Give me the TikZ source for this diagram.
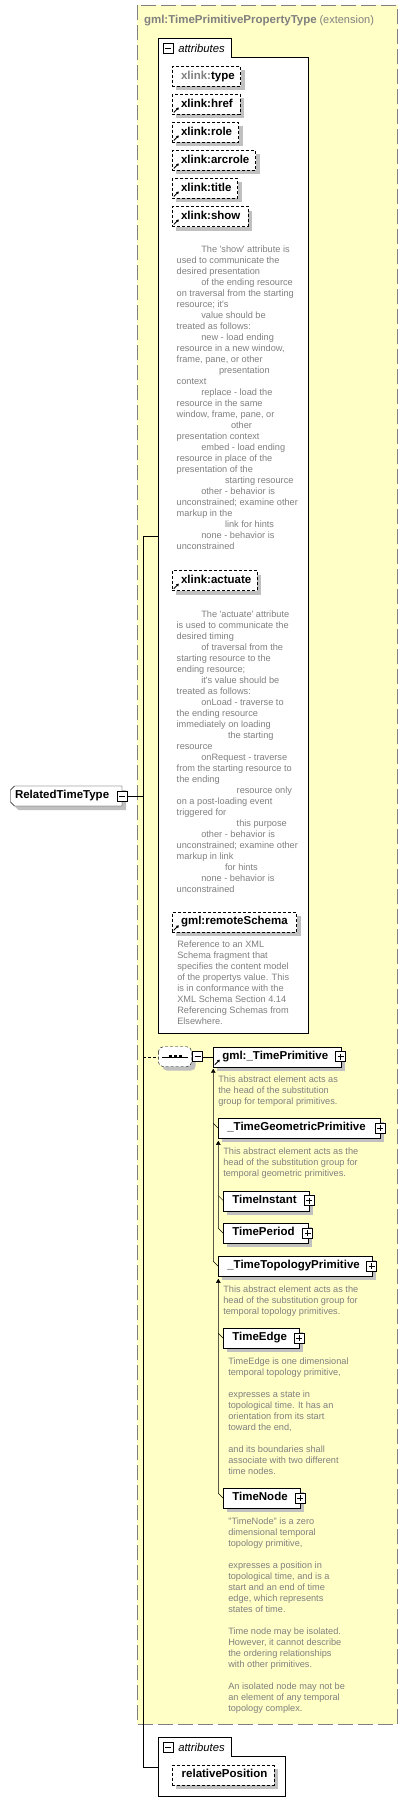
\documentclass[tikz,border=0pt]{standalone}
\usepackage{fontspec}
\setmainfont{Liberation Sans}
\usetikzlibrary{shadows,arrows.meta,calc}
\pgfdeclarelayer{bg}
\pgfsetlayers{bg,main}
\definecolor{ybg}{HTML}{FFFFC6}
\definecolor{dgray}{HTML}{808080}
\definecolor{shgray}{HTML}{C0C0C0}
\newcommand{\lblstrut}{\rule[-3pt]{0pt}{11.2pt}}
\newcommand{\indA}{\hspace*{24.6pt}}
\newcommand{\myrefarr}[1]{\draw[line width=0.9pt,-{Triangle[width=3pt,length=2.5pt]}] ([xshift=1.5pt,yshift=2pt]#1.south west) -- ++(5,-5);}
\begin{document}
\begin{tikzpicture}[x=1pt,y=-1pt,line width=1pt,
  every node/.style={inner sep=0pt,outer sep=0pt},
  lbl/.style={font=\fontsize{11.5}{13.8}\selectfont\bfseries},
  shad/.style={drop shadow={shadow xshift=4pt,shadow yshift=-4pt,fill=shgray,opacity=1}},
  elem/.style={rectangle,draw,fill=white,shad,lbl,anchor=west,inner xsep=9pt,align=left,minimum height=20pt},
  attr/.style={rectangle,draw,dash pattern=on 3pt off 2pt,fill=white,shad,lbl,anchor=west,inner xsep=8.7pt,align=left,minimum height=20pt},
  desc/.style={anchor=north west,align=left,text=dgray,font=\fontsize{9.2}{11}\selectfont},
  tabtxt/.style={anchor=base west,font=\fontsize{11.3}{13}\selectfont\itshape},
  pmbox/.style={rectangle,draw,fill=white,minimum size=10pt,inner sep=0pt,line width=0.8pt},
  minusbox/.style={pmbox,path picture={\draw[line width=0.8pt] ([xshift=2pt]path picture bounding box.west) -- ([xshift=-2pt]path picture bounding box.east);}},
  plusbox/.style={pmbox,path picture={\draw[line width=0.8pt] ([xshift=2pt]path picture bounding box.west) -- ([xshift=-2pt]path picture bounding box.east) ([yshift=-2pt]path picture bounding box.north) -- ([yshift=2pt]path picture bounding box.south);}},
  arr/.style={{Triangle[width=4.5pt,length=4pt]}-},
  ybox/.style={fill=ybg,draw=dgray,line width=1.3pt,dash pattern=on 15pt off 5pt},
  cont/.style={fill=white,draw=black,line width=1pt}
]
\useasboundingbox (0,0) rectangle (419,1814);

% extension box
\draw[ybox] (137.3,5.3) rectangle (397.7,1724.3);
\node[anchor=base west,text=dgray] (title) at (144,23.3)
  {{\fontsize{11.5}{13.8}\selectfont\bfseries gml:TimePrimitivePropertyType} {\fontsize{11}{13}\selectfont(extension)}};

% attributes container 1
\draw[cont] (158.3,38.3) -- (231,38.3) -- (231,57.3) -- (308.7,57.3) -- (308.7,1033.3) -- (158.3,1033.3) -- cycle;
\node[minusbox] (a1m) at (168.3,48.3) {};
\node[tabtxt] (a1t) at (178.3,52.3) {attributes};
\coordinate (a1in) at (158.3,536);

\node[attr,text width=51pt] (xtype) at (172.3,76.5) {\lblstrut{\color{dgray}xlink:}type};
\node[attr,text width=50.3pt] (xhref) at (172.3,104.5) {\lblstrut xlink:href};
\node[attr,text width=49pt] (xrole) at (172.3,132.5) {\lblstrut xlink:role};
\node[attr,text width=66pt] (xarc) at (172.3,160.5) {\lblstrut xlink:arcrole};
\node[attr,text width=48pt] (xtitle) at (172.3,188.5) {\lblstrut xlink:title};
\node[attr,text width=58.3pt] (xshow) at (172.3,216.5) {\lblstrut xlink:show};
\myrefarr{xhref}
\myrefarr{xrole}
\myrefarr{xarc}
\myrefarr{xtitle}
\myrefarr{xshow}

\node[desc] (dshow) at (176.7,244.9) {\strut\indA The \textquotesingle show\textquotesingle{} attribute is\\
used to communicate the\\
desired presentation\\
\indA of the ending resource\\
on traversal from the starting\\
resource; it\textquotesingle s\\
\indA value should be\\
treated as follows:\\
\indA new - load ending\\
resource in a new window,\\
frame, pane, or other\\
\hspace*{42.3pt}presentation\\
context\\
\indA replace - load the\\
resource in the same\\
window, frame, pane, or\\
\hspace*{54.3pt}other\\
presentation context\\
\indA embed - load ending\\
resource in place of the\\
presentation of the\\
\hspace*{48.3pt}starting resource\\
\indA other - behavior is\\
unconstrained; examine other\\
markup in the\\
\hspace*{48.3pt}link for hints\\
\indA none - behavior is\\
unconstrained};

\node[attr,text width=67.3pt] (xact) at (172.3,580.7) {\lblstrut xlink:actuate};
\myrefarr{xact}
\node[desc] (dact) at (176.7,609.3) {\strut\indA The \textquotesingle actuate\textquotesingle{} attribute\\
is used to communicate the\\
desired timing\\
\indA of traversal from the\\
starting resource to the\\
ending resource;\\
\indA it\textquotesingle s value should be\\
treated as follows:\\
\indA onLoad - traverse to\\
the ending resource\\
immediately on loading\\
\hspace*{51.3pt}the starting\\
resource\\
\indA onRequest - traverse\\
from the starting resource to\\
the ending\\
\hspace*{60pt}resource only\\
on a post-loading event\\
triggered for\\
\hspace*{60pt}this purpose\\
\indA other - behavior is\\
unconstrained; examine other\\
markup in link\\
\hspace*{48.3pt}for hints\\
\indA none - behavior is\\
unconstrained};

\node[attr,text width=107pt] (xrs) at (172.3,922.3) {\lblstrut gml:remoteSchema};
\myrefarr{xrs}
\node[desc] (drs) at (177.3,939.9) {\strut Reference to an XML\\
Schema fragment that\\
specifies the content model\\
of the propertys value. This\\
is in conformance with the\\
XML Schema Section 4.14\\
Referencing Schemas from\\
Elsewhere.};

% root element
\node[lbl,anchor=west,inner xsep=4.5pt,text width=102.5pt,align=left,minimum height=20pt] (rt) at (10.5,796) {\lblstrut RelatedTimeType};
\begin{pgfonlayer}{bg}
\fill[shgray,transform canvas={shift={(4pt,-4pt)}}] ([yshift=-4pt]rt.north west) -- ([xshift=4pt]rt.north west) -- (rt.north east) -- (rt.south east) -- ([xshift=4pt]rt.south west) -- ([yshift=4pt]rt.south west) -- cycle;
\filldraw[fill=white] ([yshift=-4pt]rt.north west) -- ([xshift=4pt]rt.north west) -- (rt.north east) -- (rt.south east) -- ([xshift=4pt]rt.south west) -- ([yshift=4pt]rt.south west) -- cycle;
\end{pgfonlayer}
\node[minusbox] (rtm) at (rt.east) {};

% trunk
\coordinate (trtop) at (143.3,536);
\coordinate (trbot) at (143.3,1766.7);
\coordinate (trseq) at (143.3,1056.7);
\coordinate (a2in) at (158.3,1766.7);
\draw (a1in) -- (trtop) -- (trbot) -- (a2in);
\draw (rtm.east) -- (rtm.east -| trtop);

% sequence
\node[minimum width=33.4pt,minimum height=20pt] (seq) at (175,1056.7) {};
\fill[shgray,rounded corners=5pt,transform canvas={shift={(4pt,-4pt)}}] (seq.north west) rectangle (seq.south east);
\draw[fill=white,dash pattern=on 3pt off 2pt,rounded corners=5pt] (seq.north west) rectangle (seq.south east);
\draw ([xshift=-13.3pt]seq.center) -- ([xshift=13.3pt]seq.center);
\foreach \dx in {-5,0,5} \fill ([xshift=\dx pt]seq.center) +(-1.5,-1.5) rectangle +(1.5,1.5);
\node[minusbox] (seqm) at ([xshift=6pt]seq.east) {};
\draw[dash pattern=on 3pt off 2pt] (trseq) -- (seq.west);

% substitution group
\node[elem,text width=109.4pt] (tp) at (213.3,1056.7) {\lblstrut gml:\_TimePrimitive};
\myrefarr{tp}
\node[plusbox] (tpp) at (tp.east) {};
\draw (seqm.east) -- (tp.west);
\node[desc] (dtp) at (218.3,1074.3) {\strut This abstract element acts as\\
the head of the substitution\\
group for temporal primitives.};

\node[elem,text width=143.7pt] (tgp) at (218.3,1128.3) {\lblstrut\_TimeGeometricPrimitive};
\node[plusbox] (tgpp) at (tgp.east) {};
\node[desc] (dtgp) at (223.3,1146.3) {\strut This abstract element acts as the\\
head of the substitution group for\\
temporal geometric primitives.};

\node[elem,text width=68pt] (ti) at (223.3,1200.7) {\lblstrut TimeInstant};
\node[plusbox] (tip) at (ti.east) {};
\node[elem,text width=66.4pt] (tpe) at (223.3,1233.3) {\lblstrut TimePeriod};
\node[plusbox] (tpep) at (tpe.east) {};

\node[elem,text width=135.4pt] (ttp) at (218.3,1266.3) {\lblstrut\_TimeTopologyPrimitive};
\node[plusbox] (ttpp) at (ttp.east) {};
\node[desc] (dttp) at (223.3,1284.3) {\strut This abstract element acts as the\\
head of the substitution group for\\
temporal topology primitives.};

\node[elem,text width=57.7pt] (te) at (223.3,1338.3) {\lblstrut TimeEdge};
\node[plusbox] (tep) at (te.east) {};
\node[desc] (dte) at (228.3,1356.3) {\strut TimeEdge is one dimensional\\
temporal topology primitive,\\[11pt]
expresses a state in\\
topological time. It has an\\
orientation from its start\\
toward the end,\\[11pt]
and its boundaries shall\\
associate with two different\\
time nodes.};

\node[elem,text width=58.7pt] (tn) at (223.3,1498.3) {\lblstrut TimeNode};
\node[plusbox] (tnp) at (tn.east) {};
\node[desc] (dtn) at (228.3,1516.3) {\strut\textquotedbl TimeNode\textquotedbl{} is a zero\\
dimensional temporal\\
topology primitive,\\[11pt]
expresses a position in\\
topological time, and is a\\
start and an end of time\\
edge, which represents\\
states of time.\\[11pt]
Time node may be isolated.\\
However, it cannot describe\\
the ordering relationships\\
with other primitives.\\[11pt]
An isolated node may not be\\
an element of any temporal\\
topology complex.};

% substitution connectors
\draw[arr] ([yshift=-2pt]tp.south west) -- ([xshift=-5pt,yshift=5pt]ttp.west) -- (ttp.west);
\draw ([xshift=-5pt,yshift=5pt]tgp.west) -- (tgp.west);
\draw[arr] ([yshift=-2.5pt]tgp.south west) -- ([xshift=-5pt,yshift=5pt]tpe.west) -- (tpe.west);
\draw ([xshift=-5pt,yshift=5pt]ti.west) -- (ti.west);
\draw[arr] ([yshift=-2.5pt]ttp.south west) -- ([xshift=-5pt,yshift=5pt]tn.west) -- (tn.west);
\draw ([xshift=-5pt,yshift=5pt]te.west) -- (te.west);

% attributes container 2
\draw[cont] (158.3,1737.3) -- (231,1737.3) -- (231,1756.3) -- (285.7,1756.3) -- (285.7,1796.3) -- (158.3,1796.3) -- cycle;
\node[minusbox] (a2m) at (168.3,1747.3) {};
\node[tabtxt] (a2t) at (178.3,1751.3) {attributes};
\node[attr,inner xsep=9.4pt,text width=82.6pt] (rpos) at (172.3,1775.3) {\lblstrut relativePosition};
\end{tikzpicture}
\end{document}
